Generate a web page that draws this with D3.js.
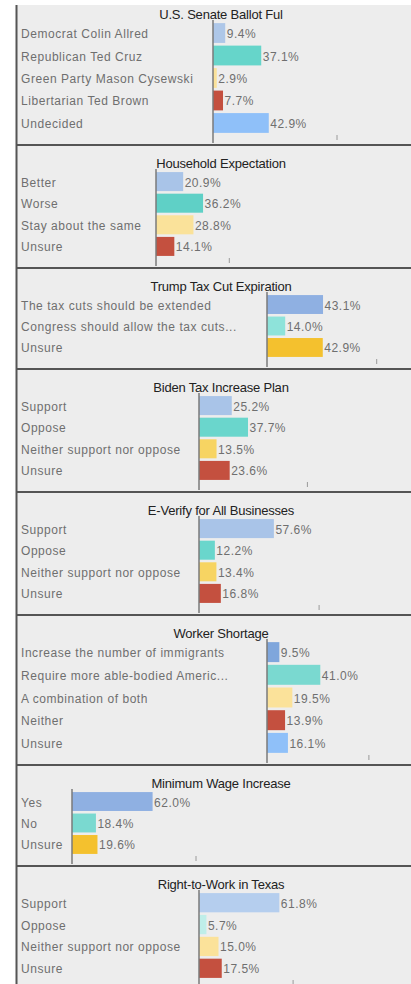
<!DOCTYPE html>
<html>
<head>
<meta charset="utf-8">
<script src="https://cdn.jsdelivr.net/npm/d3@7"></script>
<style>
  html, body { margin: 0; padding: 0; background: #ffffff; }
  svg { display: block; }
  .lbl { font-family: "Liberation Sans", Arial, sans-serif; font-size: 12px; letter-spacing: 0.55px; fill: #6f6f6f; }
  .val { font-family: "Liberation Sans", Arial, sans-serif; font-size: 12px; letter-spacing: 0.5px; fill: #6f6f6f; }
  .ttl { font-family: "Liberation Sans", Arial, sans-serif; font-size: 13px; letter-spacing: -0.2px; fill: #222; }
</style>
</head>
<body>
<script>
// ---------- data ----------
const titles = ["U.S. Senate Ballot Ful", "Household Expectation", "Trump Tax Cut Expiration",
  "Biden Tax Increase Plan", "E-Verify for All Businesses", "Worker Shortage",
  "Minimum Wage Increase", "Right-to-Work in Texas"];

const senateCats = ["Democrat Colin Allred", "Republican Ted Cruz", "Green Party Mason Cysewski", "Libertarian Ted Brown", "Undecided"];
const senateVals = [9.4, 37.1, 2.9, 7.7, 42.9];

const householdCats = ["Better", "Worse", "Stay about the same", "Unsure"];
const householdVals = [20.9, 36.2, 28.8, 14.1];

const trumpCats = ["The tax cuts should be extended", "Congress should allow the tax cuts...", "Unsure"];
const trumpVals = [43.1, 14.0, 42.9];

const bidenCats = ["Support", "Oppose", "Neither support nor oppose", "Unsure"];
const bidenVals = [25.2, 37.7, 13.5, 23.6];

const everifyCats = ["Support", "Oppose", "Neither support nor oppose", "Unsure"];
const everifyVals = [57.6, 12.2, 13.4, 16.8];

const workerCats = ["Increase the number of immigrants", "Require more able-bodied Americ...", "A combination of both", "Neither", "Unsure"];
const workerVals = [9.5, 41.0, 19.5, 13.9, 16.1];

const wageCats = ["Yes", "No", "Unsure"];
const wageVals = [62.0, 18.4, 19.6];

const rtwCats = ["Support", "Oppose", "Neither support nor oppose", "Unsure"];
const rtwVals = [61.8, 5.7, 15.0, 17.5];

// single tick value shown on each panel's value axis
const tickVals = [[95], [56], [84], [83], [92], [78], [95], [72]];

// ---------- styles / layout ----------
const colors = [
  ["#aec7e8", "#66d5ca", "#fbe29a", "#c4503f", "#8fc0f9"],
  ["#a9c4e8", "#5fd0c6", "#fae29a", "#c4503f"],
  ["#8fb0e2", "#8ee3da", "#f4c12e"],
  ["#a9c4e8", "#6ad6cc", "#f7d462", "#c4503f"],
  ["#a9c4e8", "#6ad6cc", "#f7d462", "#c4503f"],
  ["#7fa6dc", "#7ad9d0", "#fbe29a", "#c4503f", "#8fc0f9"],
  ["#8fb0e2", "#7ad9d0", "#f4c12e"],
  ["#b5ceee", "#bfeee9", "#fbe29a", "#c4503f"]
];
const panelTops = [-4, 145, 268, 369, 492, 615, 765, 866];
const panelBottoms = [145, 268, 369, 492, 615, 765, 866, 990];
const axisX = [213, 156, 267, 199, 199, 267, 72, 199];

const panels = [
  [senateCats, senateVals], [householdCats, householdVals], [trumpCats, trumpVals],
  [bidenCats, bidenVals], [everifyCats, everifyVals], [workerCats, workerVals],
  [wageCats, wageVals], [rtwCats, rtwVals]
];

const W = 411, H = 984;
const svg = d3.select("body").append("svg").attr("width", W).attr("height", H);

// background
svg.append("rect").attr("x", 17).attr("y", 5).attr("width", W - 17).attr("height", H - 5).attr("fill", "#ededed");

panels.forEach(([cats, vals], i) => {
  const top = panelTops[i], bottom = panelBottoms[i];
  const g = svg.append("g");
  const x = d3.scaleLinear().domain([0, 100]).range([axisX[i], axisX[i] + 130]);
  const y = d3.scaleBand().domain(cats).range([top + 26, bottom - 11]).paddingInner(0.12).paddingOuter(0.05);
  const data = cats.map((c, k) => ({ c, v: vals[k], col: colors[i][k] }));

  g.append("text").attr("class", "ttl").attr("x", 221).attr("y", top + 18)
    .attr("text-anchor", "middle").attr("dominant-baseline", "central").text(titles[i]);

  g.selectAll("text.lbl").data(data).join("text").attr("class", "lbl")
    .attr("x", 21).attr("y", d => y(d.c) + y.bandwidth() / 2 + 1)
    .attr("dominant-baseline", "central").text(d => d.c);

  g.selectAll("rect.bar").data(data).join("rect").attr("class", "bar")
    .attr("x", x(0)).attr("y", d => y(d.c))
    .attr("width", d => x(d.v) - x(0)).attr("height", y.bandwidth())
    .attr("fill", d => d.col);

  g.selectAll("text.val").data(data).join("text").attr("class", "val")
    .attr("x", d => x(d.v) + 1.5).attr("y", d => y(d.c) + y.bandwidth() / 2 + 1)
    .attr("dominant-baseline", "central").text(d => d3.format(".1f")(d.v) + "%");

  // value axis line
  g.append("line").attr("x1", x(0)).attr("x2", x(0))
    .attr("y1", top + 24).attr("y2", bottom - 2)
    .attr("stroke", "#7a7a7a").attr("stroke-width", 1.5);

  // tick marks
  const ax = d3.axisBottom(x).tickValues(tickVals[i]).tickSize(5).tickFormat("");
  const axG = g.append("g").attr("transform", `translate(0,${bottom - 10})`).call(ax);
  axG.select(".domain").remove();
  axG.selectAll(".tick line").attr("stroke", "#9a9a9a");
});

// separators
panelTops.slice(1).forEach(t => {
  svg.append("line").attr("x1", 17).attr("x2", W).attr("y1", t).attr("y2", t)
    .attr("stroke", "#555").attr("stroke-width", 2);
});
// left border
svg.append("line").attr("x1", 16.5).attr("x2", 16.5).attr("y1", 5).attr("y2", H)
  .attr("stroke", "#555").attr("stroke-width", 2);
</script>
</body>
</html>
